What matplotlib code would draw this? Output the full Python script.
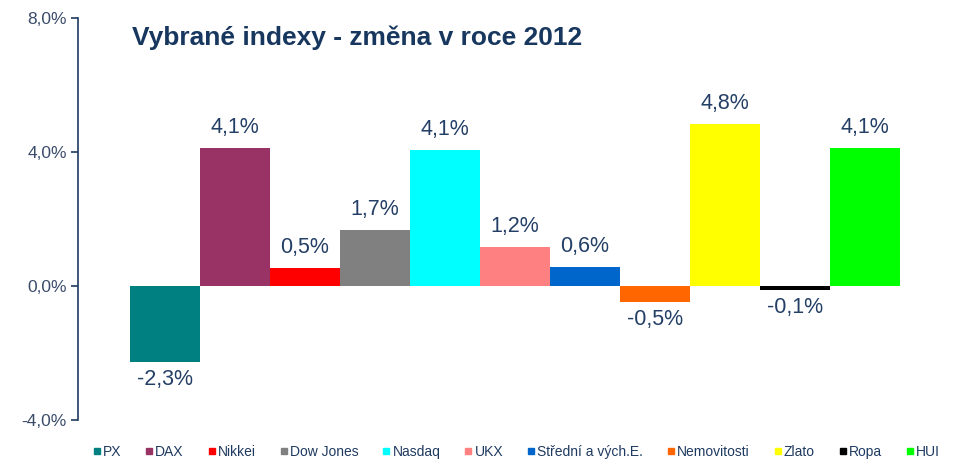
import matplotlib.pyplot as plt
from matplotlib.lines import Line2D

plt.rcParams['font.family'] = ['Liberation Sans', 'DejaVu Sans']

names = ['PX', 'DAX', 'Nikkei', 'Dow Jones', 'Nasdaq', 'UKX',
         'Střední a vých.E.', 'Nemovitosti', 'Zlato', 'Ropa', 'HUI']
values = [-2.27, 4.12, 0.54, 1.67, 4.07, 1.17, 0.57, -0.48, 4.84, -0.12, 4.12]
colors = ['#008080', '#993366', '#FF0000', '#808080', '#00FFFF', '#FF8080',
          '#0066CC', '#FF6600', '#FFFF00', '#000000', '#00FF00']

fig = plt.figure(figsize=(9.6, 4.62), dpi=100)
ax = fig.add_axes([0.08125, 0.0909, 0.9104, 0.8701])

x = list(range(len(values)))
ax.bar(x, values, width=1.0, color=colors, align='center')

lab_col = '#243F66'
for xi, v in zip(x, values):
    txt = f'{v:.1f}%'.replace('.', ',')
    if v >= 0:
        ax.text(xi, v + 0.3, txt, ha='center', va='bottom', fontsize=15.5, color=lab_col)
    else:
        ax.text(xi, v - 0.2, txt, ha='center', va='top', fontsize=15.5, color=lab_col)

ax.set_xlim(-1.243, 11.243)
ax.set_ylim(-4, 8)
ax.set_yticks([-4, 0, 4, 8])
ax.set_yticklabels(['-4,0%', '0,0%', '4,0%', '8,0%'], fontsize=12.5, color='#3B4C6B')
ax.set_xticks([])
for s in ['top', 'right', 'bottom']:
    ax.spines[s].set_visible(False)
ax.spines['left'].set_color('#1F3A60')
ax.spines['left'].set_linewidth(1.2)
ax.tick_params(axis='y', direction='out', length=5, color='#1F3A60', width=1.2, pad=3)

ax.text(0.062, 0.95, 'Vybrané indexy - změna v roce 2012', transform=ax.transAxes,
        fontsize=19, fontweight='bold', color='#17375E', ha='left', va='center')

handles = [Line2D([], [], marker='s', linestyle='', color=c, markersize=4.5) for c in colors]
fig.legend(handles, names, loc='center', bbox_to_anchor=(0.537, 0.022), ncol=11,
           frameon=False, fontsize=10, handletextpad=0.05, columnspacing=1.6,
           labelcolor='#1F3A60', handlelength=0.8)

fig.savefig('out.png', dpi=100)
